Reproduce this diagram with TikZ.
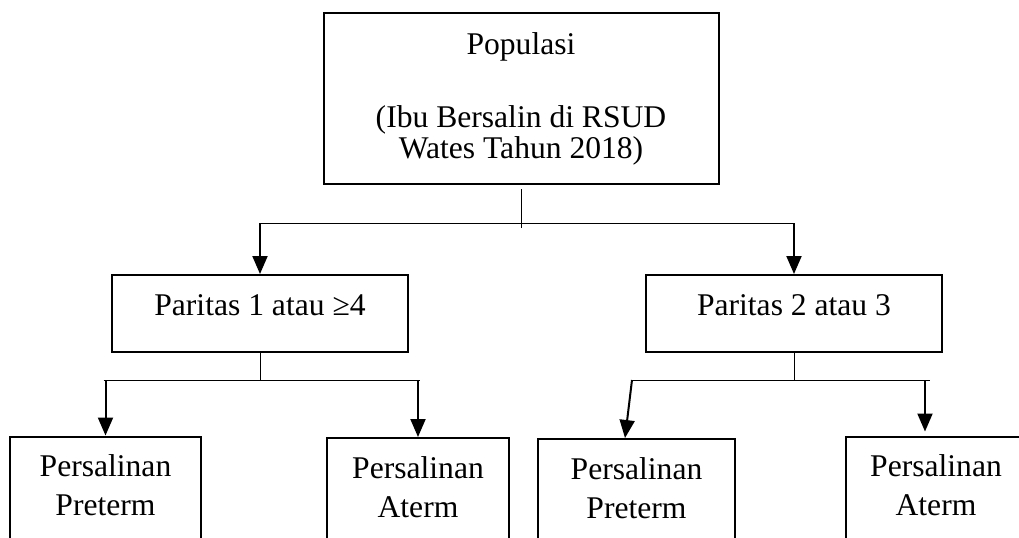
\documentclass[tikz,border=0pt]{standalone}
\usepackage{fontspec}
\setmainfont{Liberation Serif}
\usetikzlibrary{positioning}
\usetikzlibrary{arrows.meta}

\begin{document}
\begin{tikzpicture}[x=0.5pt,y=-0.5pt,
  box/.style={draw,line width=1pt,inner sep=0pt,align=center,font=\fontsize{15.8pt}{19.5pt}\selectfont},
  midbox/.style={box,minimum width=148pt,minimum height=38.5pt,text height=10.5pt,text depth=9pt},
  leafbox/.style={box,minimum height=60pt,text height=30pt,text depth=11pt},
  arr/.style={line width=1pt,-{Triangle[length=9pt,width=7.5pt]}},
  link/.style={line width=0.5pt}]
\useasboundingbox (0,0) rectangle (1019,537);
\node[box,minimum width=197.5pt,minimum height=85.5pt,text height=63pt,text depth=3.5pt,
  font=\fontsize{15.8pt}{15.5pt}\selectfont] (pop) at (521,98.5)
  {Populasi\\[21pt](Ibu Bersalin di RSUD\\Wates Tahun 2018)};
\node[midbox] (midL) at (260,313.5) {Paritas 1 atau ≥4};
\node[midbox] (midR) at (794,313.5) {Paritas 2 atau 3};
\node[leafbox,minimum width=95.5pt] (LP) at (105.5,496.5) {Persalinan\\Preterm};
\node[leafbox,minimum width=91pt] (LA) at (418,498) {Persalinan\\Aterm};
\node[leafbox,minimum width=98.5pt] (RP) at (636.5,499) {Persalinan\\Preterm};
\node[leafbox,minimum width=90pt] (RA) at (936,496.5) {Persalinan\\Aterm};
% split points
\coordinate (fork) at (521,223);
\coordinate (forkL) at (260,380);
\coordinate (forkR) at (794,380);
\coordinate (aRP) at (632,380);
\coordinate (aRA) at (925,380);
% first level
\draw[link] ([yshift=-2pt]pop.south) -- ([yshift=-2.5pt]fork);
\draw[link] (midL |- fork) -- (midR |- fork);
\path[arr]
    (midL |- fork) edge (midL)
    (midR |- fork) edge (midR)
;
% second level
\draw[link] (midL) -- (forkL);
\draw[link] (midR) -- (forkR);
\draw[link] ([xshift=-1pt]LP |- forkL) -- ([xshift=1pt]LA |- forkL);
\draw[link] ([xshift=-0.5pt]aRP) -- ([xshift=2.5pt]aRA);
\path[arr]
    (LP |- forkL) edge (LP)
    (LA |- forkL) edge (LA)
    (aRP) edge ([xshift=-5.75pt]RP.north)
    (aRA) edge[shorten >=2pt] ([xshift=-5.5pt]RA.north)
;
\end{tikzpicture}
\end{document}
